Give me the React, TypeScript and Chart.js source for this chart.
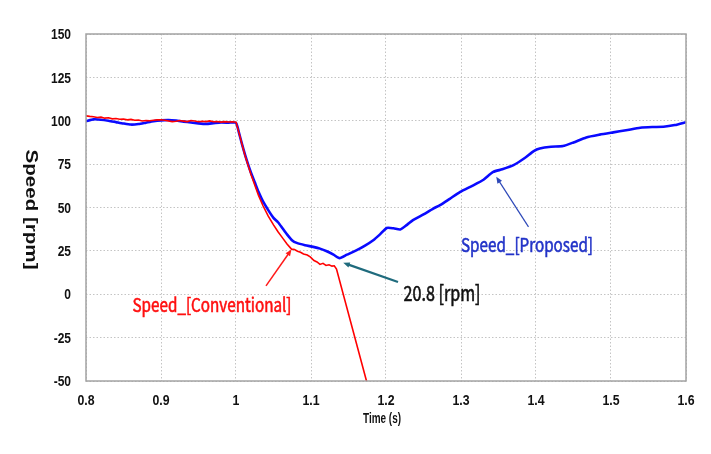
import { useEffect, useRef } from 'react';
import { Chart, registerables } from 'chart.js';

Chart.register(...registerables);

// Speed_[Proposed] (blue)
const proposedTime = [
    0.80, 0.81, 0.82, 0.83, 0.84, 0.85, 0.86, 0.87, 0.88, 0.89,
    0.90, 0.91, 0.92, 0.93, 0.94, 0.95, 0.96, 0.97, 0.98, 0.99,
    1.000, 1.004, 1.008, 1.012, 1.016, 1.020, 1.025, 1.030, 1.036, 1.043,
    1.050, 1.056, 1.062, 1.068, 1.075, 1.081, 1.092, 1.103, 1.112, 1.121,
    1.130, 1.138, 1.148, 1.161, 1.172, 1.183, 1.192, 1.201, 1.210, 1.219,
    1.228, 1.236, 1.250, 1.263, 1.272, 1.285, 1.299, 1.315, 1.330, 1.343,
    1.355, 1.370, 1.385, 1.397, 1.405, 1.420, 1.436, 1.450, 1.467, 1.485,
    1.503, 1.520, 1.539, 1.555, 1.570, 1.585, 1.600,
];
const proposedSpeed = [
    99.8, 100.8, 100.6, 100.0, 99.2, 98.4, 97.8, 98.1, 98.9, 99.7,
    100.2, 100.4, 100.1, 99.5, 99.0, 98.5, 98.2, 98.6, 99.0, 98.9,
    98.8, 93, 86.5, 80.5, 75, 70, 64.5, 59, 53.5, 48.5,
    44, 41.5, 38, 34.5, 31, 29.6, 28.3, 27.3, 26.3, 24.8,
    22.8, 20.8, 22.8, 25.4, 28, 31.1, 34.5, 38.2, 38, 37.3,
    40, 42.7, 46, 49.4, 51.3, 55, 59, 62.5, 66, 70.5,
    72, 74.4, 78.5, 82.5, 84, 85, 85.4, 87.5, 90.4, 92,
    93.3, 94.5, 96, 96.4, 96.5, 97.5, 99.2,
];

// Speed_[Conventional] (red)
const conventionalTime = [
    0.800, 0.805, 0.810, 0.815, 0.820, 0.825, 0.830, 0.835, 0.840, 0.845,
    0.850, 0.855, 0.860, 0.865, 0.870, 0.875, 0.880, 0.885, 0.890, 0.895,
    0.900, 0.905, 0.910, 0.915, 0.920, 0.925, 0.930, 0.935, 0.940, 0.945,
    0.950, 0.955, 0.960, 0.965, 0.970, 0.975, 0.980, 0.985, 0.990, 0.995,
    1.000, 1.004, 1.008, 1.012, 1.016, 1.020, 1.025, 1.030, 1.036, 1.043,
    1.050, 1.056, 1.062, 1.068, 1.074, 1.078, 1.082, 1.086, 1.090, 1.095,
    1.099, 1.104, 1.108, 1.112, 1.116, 1.120, 1.124, 1.128, 1.131, 1.134,
    1.174, 1.180,
];
const conventionalSpeed = [
    102.8, 102.5, 102.3, 101.9, 102.1, 101.5, 101.7, 101.1, 101.3, 100.9,
    101.0, 100.5, 100.8, 100.3, 100.4, 99.9, 100.1, 100.0, 100.3, 100.5,
    100.6, 100.3, 99.9, 99.5, 99.7, 100.1, 99.8, 99.5, 100.1, 99.9,
    99.4, 99.7, 99.5, 99.9, 99.4, 99.6, 99.2, 99.5, 99.3, 99.4,
    99.2, 93, 86.5, 80, 74.5, 69, 63, 57, 51, 45,
    40, 36, 32.5, 29, 26, 25.8, 24.8, 24.2, 23.2, 22.6,
    21.5, 19.4, 18.6, 17.2, 17.8, 16.6, 17.0, 16.2, 16.4, 14.5,
    -50, -59.7,
];

const xTicks = [0.8, 0.9, 1.0, 1.1, 1.2, 1.3, 1.4, 1.5, 1.6];
const yTicks = [-50, -25, 0, 25, 50, 75, 100, 125, 150];

const tickFont = "'Liberation Sans', Arial, sans-serif";
const labelFont = "'Noto Sans CJK KR', 'Noto Sans', sans-serif";

// annotation arrows: tail -> head, in data coordinates
const arrows = [
    { from: [1.040, 4.8], to: [1.074, 25.8], color: '#ff1a1a', width: 1.5 },
    { from: [1.216, 7.1], to: [1.143, 18.1], color: '#1f6b7d', width: 2.2 },
    { from: [1.390, 38.8], to: [1.347, 67.7], color: '#2d48b8', width: 1.2 },
];

const labels = [
    { text: 'Speed_[Conventional]', at: [0.968, -5.8], color: '#ff1010', size: 19, width: 159 },
    { text: '20.8 [rpm]', at: [1.2747, 0.5], color: '#111111', size: 21, width: 77 },
    { text: 'Speed_[Proposed]', at: [1.388, 28.8], color: '#2233c8', size: 19, width: 132 },
];

function fitText(ctx: CanvasRenderingContext2D, text: string, x: number, y: number, width: number, rotate = 0, squeeze = 1, stroke = 0) {
    const w = ctx.measureText(text).width;
    ctx.save();
    ctx.translate(x, y);
    if (rotate) ctx.rotate(rotate);
    ctx.scale(width / w, squeeze);
    ctx.textAlign = 'center';
    ctx.textBaseline = 'middle';
    ctx.fillText(text, 0, 0);
    if (stroke) {
        ctx.strokeStyle = ctx.fillStyle;
        ctx.lineWidth = stroke;
        ctx.strokeText(text, 0, 0);
    }
    ctx.restore();
}

function squeezedText(ctx: CanvasRenderingContext2D, text: string, x: number, y: number, sx: number, align: CanvasTextAlign) {
    ctx.save();
    ctx.translate(x, y);
    ctx.scale(sx, 1);
    ctx.textAlign = align;
    ctx.textBaseline = 'middle';
    ctx.fillText(text, 0, 0);
    ctx.restore();
}

const overlayPlugin = {
    id: 'overlay',
    afterDatasetsDraw(chart: any) {
        const { ctx, chartArea: a, scales } = chart;
        const px = (v: number) => scales.x.getPixelForValue(v);
        const py = (v: number) => scales.y.getPixelForValue(v);

        // plot frame
        ctx.save();
        ctx.strokeStyle = '#a3a3a3';
        ctx.lineWidth = 1.5;
        ctx.strokeRect(a.left, a.top, a.right - a.left, a.bottom - a.top);
        ctx.restore();

        // tick labels, taken from the scales
        ctx.save();
        ctx.fillStyle = '#111111';
        ctx.font = `bold 15px ${tickFont}`;
        scales.y.ticks.forEach((t: any) => {
            squeezedText(ctx, String(t.value), a.left - 15, py(t.value) + 1, 0.8, 'right');
        });
        ctx.font = `bold 14px ${tickFont}`;
        scales.x.ticks.forEach((t: any) => {
            squeezedText(ctx, String(Number(t.value.toFixed(1))), px(t.value), a.bottom + 20, 0.88, 'center');
        });
        ctx.restore();

        // arrows
        arrows.forEach(ar => {
            const x1 = px(ar.from[0]), y1 = py(ar.from[1]);
            const x2 = px(ar.to[0]), y2 = py(ar.to[1]);
            const ang = Math.atan2(y2 - y1, x2 - x1);
            const len = 7;
            ctx.save();
            ctx.strokeStyle = ar.color;
            ctx.fillStyle = ar.color;
            ctx.lineWidth = ar.width;
            ctx.beginPath();
            ctx.moveTo(x1, y1);
            ctx.lineTo(x2 - Math.cos(ang) * 4, y2 - Math.sin(ang) * 4);
            ctx.stroke();
            ctx.beginPath();
            ctx.moveTo(x2, y2);
            ctx.lineTo(x2 - len * Math.cos(ang - 0.4), y2 - len * Math.sin(ang - 0.4));
            ctx.lineTo(x2 - len * Math.cos(ang + 0.4), y2 - len * Math.sin(ang + 0.4));
            ctx.closePath();
            ctx.fill();
            ctx.restore();
        });

        // text labels
        labels.forEach(l => {
            ctx.save();
            ctx.font = `${l.size}px ${labelFont}`;
            ctx.fillStyle = l.color;
            fitText(ctx, l.text, px(l.at[0]), py(l.at[1]), l.width, 0, 1, 0.6);
            ctx.restore();
        });

        // axis titles
        ctx.save();
        ctx.fillStyle = '#111111';
        ctx.font = `bold 20px ${tickFont}`;
        fitText(ctx, 'Speed [rpm]', 31, (a.top + a.bottom) / 2 + 2, 120, Math.PI / 2, 0.85);
        ctx.font = `bold 15px ${tickFont}`;
        fitText(ctx, 'Time (s)', (a.left + a.right) / 2 - 4, a.bottom + 38, 38);
        ctx.restore();
    },
};

export default function App() {
    const canvasRef = useRef<HTMLCanvasElement | null>(null);
    const chartInstance = useRef<Chart | null>(null);

    useEffect(() => {
        if (!canvasRef.current) return;
        const ctx = canvasRef.current.getContext('2d');
        if (!ctx) return;

        if (chartInstance.current) chartInstance.current.destroy();

        chartInstance.current = new Chart(ctx, {
            type: 'line',
            data: {
                datasets: [
                    {
                        label: 'Speed_[Proposed]',
                        data: proposedTime.map((t, i) => ({ x: t, y: proposedSpeed[i] })),
                        borderColor: '#0a0aff',
                        borderWidth: 2.6,
                        pointRadius: 0,
                        tension: 0.2,
                        order: 2,
                    },
                    {
                        label: 'Speed_[Conventional]',
                        data: conventionalTime.map((t, i) => ({ x: t, y: conventionalSpeed[i] })),
                        borderColor: '#ff0000',
                        borderWidth: 1.6,
                        pointRadius: 0,
                        tension: 0,
                        order: 1,
                    },
                ],
            },
            options: {
                animation: false,
                responsive: true,
                maintainAspectRatio: false,
                events: [],
                layout: { padding: { top: 34, right: 25, left: 0, bottom: 0 } },
                plugins: {
                    legend: { display: false },
                    tooltip: { enabled: false },
                },
                scales: {
                    x: {
                        type: 'linear',
                        min: 0.8,
                        max: 1.6,
                        afterBuildTicks: (s: any) => { s.ticks = xTicks.map(v => ({ value: v })); },
                        afterFit: (s: any) => { s.height = 73; },
                        ticks: { display: false },
                        grid: { color: '#c4c4c4', lineWidth: 1, drawTicks: false },
                        border: { display: false, dash: [1.5, 2] },
                    },
                    y: {
                        type: 'linear',
                        min: -50,
                        max: 150,
                        afterBuildTicks: (s: any) => { s.ticks = yTicks.map(v => ({ value: v })); },
                        afterFit: (s: any) => { s.width = 86; },
                        ticks: { display: false },
                        grid: { color: '#c4c4c4', lineWidth: 1, drawTicks: false },
                        border: { display: false, dash: [1.5, 2] },
                    },
                },
            },
            plugins: [overlayPlugin],
        });

        return () => {
            if (chartInstance.current) {
                chartInstance.current.destroy();
                chartInstance.current = null;
            }
        };
    }, []);

    return (
        <div style={{ position: 'fixed', left: 0, top: 0, width: 711, height: 454, background: '#ffffff' }}>
            <canvas ref={canvasRef}></canvas>
        </div>
    );
}
